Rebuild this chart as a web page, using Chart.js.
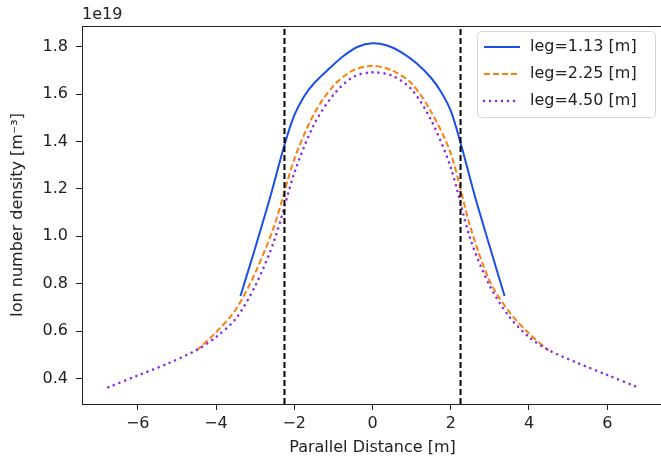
<!DOCTYPE html>
<html>
<head>
<meta charset="utf-8">
<script src="https://cdn.jsdelivr.net/npm/chart.js@4.4.1/dist/chart.umd.min.js"></script>
<style>
  html, body { margin: 0; padding: 0; background: #fff; overflow: hidden; }
  #wrap { position: relative; width: 664px; height: 462px; }
</style>
</head>
<body>
<div id="wrap"><canvas id="density"></canvas></div>
<script>
// values in units of 1e19 m^-3
var legLabels = ['leg=1.13 [m]', 'leg=2.25 [m]', 'leg=4.50 [m]'];

var x113 = [-3.375, -3.0, -2.625, -2.25, -2.0, -1.75, -1.5, -1.125, -0.75, -0.375, 0,
            0.375, 0.75, 1.125, 1.5, 1.75, 2.0, 2.25, 2.625, 3.0, 3.375];
var n113 = [0.748, 0.95, 1.16, 1.385, 1.51, 1.59, 1.645, 1.705, 1.76, 1.80, 1.815,
            1.805, 1.775, 1.73, 1.668, 1.61, 1.53, 1.395, 1.165, 0.955, 0.748];

var x225 = [-4.5, -4.0, -3.5, -3.0, -2.5, -2.0, -1.5, -1.0, -0.5, 0,
            0.5, 1.0, 1.5, 2.0, 2.5, 3.0, 3.5, 4.0, 4.5];
var n225 = [0.518, 0.595, 0.69, 0.845, 1.05, 1.325, 1.515, 1.635, 1.70, 1.72,
            1.70, 1.645, 1.525, 1.35, 1.04, 0.81, 0.68, 0.59, 0.518];

var x450 = [-6.75, -6.0, -5.25, -4.5, -4.0, -3.5, -3.0, -2.5, -2.0, -1.5, -1.0, -0.5, 0,
            0.5, 1.0, 1.5, 2.0, 2.5, 3.0, 3.5, 4.0, 4.5, 5.25, 6.0, 6.75];
var n450 = [0.363, 0.413, 0.462, 0.52, 0.575, 0.651, 0.79, 0.988, 1.266, 1.47, 1.597, 1.672, 1.692,
            1.678, 1.62, 1.49, 1.29, 0.99, 0.79, 0.66, 0.575, 0.52, 0.465, 0.415, 0.365];

// dashed markers at +- leg/2 of the shortest leg
var vlines = [-2.25, 2.25];

var xTicks = [-6, -4, -2, 0, 2, 4, 6];
var yTicks = [0.4, 0.6, 0.8, 1.0, 1.2, 1.4, 1.6, 1.8];

var xMin = -7.425, xMax = 7.425;
var yMin = 0.2925, yMax = 1.8875;

var colors = ['#1c4ee8', '#ff7f0e', '#8a2be2'];
var widths = [2, 2, 2.6];
var dashes = [[], [6, 3], [0.01, 6]];
var FONT = 'DejaVu Sans';

function pts(xs, ys) {
  return xs.map(function (x, i) { return { x: x, y: ys[i] }; });
}

var datasets = [
  { data: pts(x113, n113), borderColor: colors[0], borderWidth: widths[0], borderDash: dashes[0], order: 3 },
  { data: pts(x225, n225), borderColor: colors[1], borderWidth: widths[1], borderDash: dashes[1], order: 2 },
  { data: pts(x450, n450), borderColor: colors[2], borderWidth: widths[2], borderDash: dashes[2],
    borderCapStyle: 'round', order: 1 }
];
datasets.forEach(function (d) { d.tension = 0.3; });
vlines.forEach(function (v) {
  datasets.push({
    data: [{ x: v, y: yMin }, { x: v, y: yMax }],
    borderColor: '#000', borderWidth: 2, borderDash: [6, 3], order: 0, tension: 0
  });
});
datasets.forEach(function (d) {
  d.showLine = true;
  d.pointRadius = 0;
  d.fill = false;
});

// frame, offset text and matplotlib style legend
var decorPlugin = {
  id: 'decor',
  afterDraw: function (chart) {
    var ctx = chart.ctx, a = chart.chartArea;
    ctx.save();
    ctx.strokeStyle = '#222';
    ctx.lineWidth = 1;
    ctx.beginPath();
    ctx.moveTo(a.left, Math.round(a.top) + 0.5);
    ctx.lineTo(a.right, Math.round(a.top) + 0.5);
    ctx.stroke();

    ctx.fillStyle = '#222';
    ctx.font = '16px "' + FONT + '"';
    ctx.textBaseline = 'middle';
    ctx.textAlign = 'left';
    ctx.fillText('1e19', a.left, 15);

    // legend box
    var bx = 477, by = 31, bw = 178, bh = 86;
    ctx.fillStyle = 'rgba(255,255,255,0.85)';
    ctx.strokeStyle = '#d6d6d6';
    ctx.lineWidth = 1;
    ctx.beginPath();
    ctx.roundRect(bx + 0.5, by + 0.5, bw, bh, 4);
    ctx.fill();
    ctx.stroke();
    for (var i = 0; i < legLabels.length; i++) {
      var y = 47 + i * 27;
      ctx.strokeStyle = colors[i];
      ctx.lineWidth = widths[i];
      ctx.setLineDash(dashes[i]);
      ctx.lineCap = i === 2 ? 'round' : 'butt';
      ctx.beginPath();
      ctx.moveTo(484, y);
      ctx.lineTo(520, y);
      ctx.stroke();
      ctx.setLineDash([]);
      ctx.fillStyle = '#222';
      ctx.fillText(legLabels[i], 530, y);
    }
    ctx.restore();
  }
};

new Chart(document.getElementById('density'), {
  type: 'scatter',
  data: { datasets: datasets },
  options: {
    responsive: true,
    maintainAspectRatio: false,
    animation: false,
    layout: { padding: { top: 26, right: 1, left: 0, bottom: 0 } },
    plugins: { legend: { display: false }, tooltip: { enabled: false } },
    scales: {
      x: {
        type: 'linear', min: xMin, max: xMax,
        afterBuildTicks: function (s) { s.ticks = xTicks.map(function (v) { return { value: v }; }); },
        afterFit: function (s) { s.height = 58; },
        ticks: {
          color: '#222', padding: 4, font: { family: FONT, size: 16 },
          callback: function (v) { return v < 0 ? '\u2212' + Math.abs(v) : String(v); }
        },
        grid: { drawOnChartArea: false, drawTicks: true, tickLength: 6, color: '#222' },
        border: { display: true, color: '#222', width: 1 },
        title: { display: true, text: 'Parallel Distance [m]', color: '#222',
                 font: { family: FONT, size: 16 }, padding: { top: 5, bottom: 5 } }
      },
      y: {
        type: 'linear', min: yMin, max: yMax,
        afterBuildTicks: function (s) { s.ticks = yTicks.map(function (v) { return { value: v }; }); },
        afterFit: function (s) { s.width = 82; },
        ticks: {
          color: '#222', padding: 8, font: { family: FONT, size: 16 },
          callback: function (v) { return v.toFixed(1); }
        },
        grid: { drawOnChartArea: false, drawTicks: true, tickLength: 6, color: '#222' },
        border: { display: true, color: '#222', width: 1 },
        title: { display: true, text: 'Ion number density [m\u207B\u00B3]', color: '#222',
                 font: { family: FONT, size: 16 }, padding: { top: 8, bottom: 8 } }
      }
    }
  },
  plugins: [decorPlugin]
});
</script>
</body>
</html>
